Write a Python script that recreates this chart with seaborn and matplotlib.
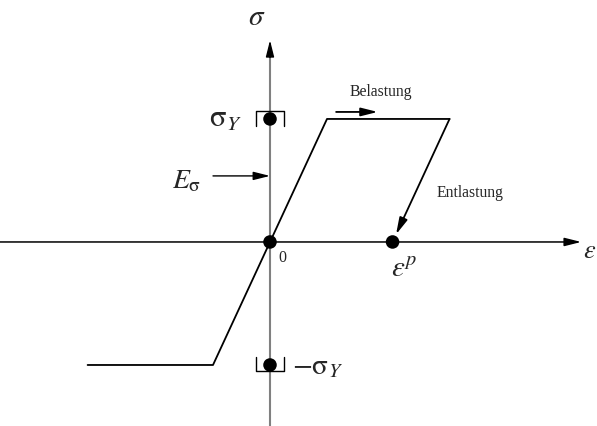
import matplotlib
matplotlib.use("Agg")
import matplotlib.pyplot as plt
import pandas as pd
import seaborn as sns

# Stress-strain path (strain in units of yield strain, stress in units of sigma_Y)
path_strain = [-3.2, -1.0, 1.0, 3.15]
path_stress = [-1.0, -1.0, 1.0, 1.0]

# Unloading from the end of the plateau back to the plastic strain
unload_start = (3.15, 1.0)
eps_plastic = 2.15

# Marked points: origin, +sigma_Y, -sigma_Y, plastic strain
point_strain = [0.0, 0.0, 0.0, eps_plastic]
point_stress = [0.0, 1.0, -1.0, 0.0]

sigma_y = 1.0

sns.set_style("white")
plt.rcParams["font.family"] = ["Liberation Serif", "DejaVu Serif"]
plt.rcParams["mathtext.fontset"] = "stix"

fig = plt.figure(figsize=(5.97, 4.26), dpi=100)
ax = fig.add_axes([0, 0, 1, 1])
ax.set_xlim(-4.737, 5.737)
ax.set_ylim(-1.496, 1.967)
ax.axis("off")

head = "-|>,head_length=1.0,head_width=0.25"

# Coordinate axes
ax.annotate("", xy=(5.46, 0), xytext=(-4.74, 0),
            arrowprops=dict(arrowstyle=head, color="black", lw=1.1,
                            shrinkA=0, shrinkB=0))
ax.plot([0, 0], [-1.5, 1.55], color="#808080", lw=1.5, zorder=1)
ax.annotate("", xy=(0, 1.64), xytext=(0, 1.5),
            arrowprops=dict(arrowstyle=head, color="black", lw=1.0,
                            shrinkA=0, shrinkB=0))

# Loading path
df = pd.DataFrame({"strain": path_strain, "stress": path_stress})
sns.lineplot(data=df, x="strain", y="stress", sort=False, color="black",
             lw=1.3, ax=ax, legend=False)

# Unloading arrow
ax.annotate("", xy=(eps_plastic, 0), xytext=unload_start,
            arrowprops=dict(arrowstyle=head, color="black", lw=1.3,
                            shrinkA=0, shrinkB=6))

# Points
pts = pd.DataFrame({"strain": point_strain, "stress": point_stress})
sns.scatterplot(data=pts, x="strain", y="stress", color="black", s=95,
                edgecolor="none", ax=ax, zorder=5, legend=False)

# Brackets around the yield stress points
bw = 0.25
ax.plot([-bw, -bw, bw, bw],
        [sigma_y - 0.057, sigma_y + 0.065, sigma_y + 0.065, sigma_y - 0.057],
        color="black", lw=1.0)
ax.plot([-bw, -bw, bw, bw],
        [-sigma_y + 0.065, -sigma_y - 0.05, -sigma_y - 0.05, -sigma_y + 0.065],
        color="black", lw=1.0)

# Loading direction arrow
ax.annotate("", xy=(1.89, 1.057), xytext=(1.16, 1.057),
            arrowprops=dict(arrowstyle=head, color="black", lw=1.3,
                            shrinkA=0, shrinkB=0))
# Modulus pointer
ax.annotate("", xy=(0, 0.537), xytext=(-1.0, 0.537),
            arrowprops=dict(arrowstyle=head, color="black", lw=1.0,
                            shrinkA=0, shrinkB=0))

# Labels
ax.text(-0.23, 1.82, r"$\sigma$", fontsize=21, ha="center", va="center")
ax.text(-0.79, 1.0, r"$\mathrm{\sigma}_Y$", fontsize=22, ha="center", va="center")
ax.text(0.84, -1.02, r"$-\mathrm{\sigma}_Y$", fontsize=21, ha="center", va="center")
ax.text(-1.46, 0.49, r"$E_{\mathrm{\sigma}}$", fontsize=20, ha="center", va="center")
ax.text(0.21, -0.13, "0", fontsize=11.5, ha="center", va="center")
ax.text(1.95, 1.22, "Belastung", fontsize=11.3, ha="center", va="center")
ax.text(3.51, 0.40, "Entlastung", fontsize=11.3, ha="center", va="center")
ax.text(2.35, -0.23, r"$\varepsilon^p$", fontsize=21, ha="center", va="center")
ax.text(5.50, -0.08, r"$\varepsilon$", fontsize=19, ha="left", va="center")

fig.savefig("out.png", dpi=100)
